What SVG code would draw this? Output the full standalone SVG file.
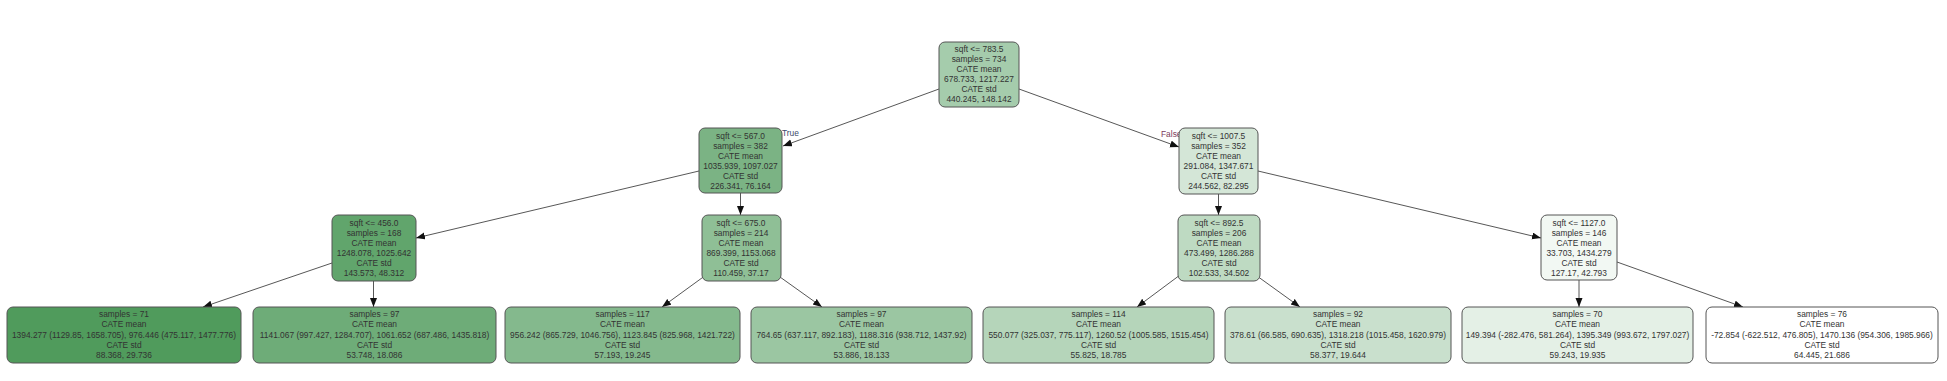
<svg xmlns="http://www.w3.org/2000/svg" width="1947" height="381" viewBox="0 0 1947 381">
<defs>
<style>
.n rect{stroke:#555;stroke-width:1}
.n text{font-family:"Liberation Sans",Arial,sans-serif;font-size:8.4px;fill:#333;text-anchor:middle}
.e line{stroke:#444;stroke-width:0.9;marker-end:url(#ah)}
.lbl{font-family:"Liberation Sans",Arial,sans-serif;font-size:8.4px}
</style>
<marker id="ah" markerUnits="userSpaceOnUse" markerWidth="10" markerHeight="8" refX="9" refY="3.5" orient="auto"><path d="M0,0 L9,3.5 L0,7 Z" fill="#111"/></marker>
</defs>
<rect width="1947" height="381" fill="#fff"/>
<g id="edges" class="e">
<line x1="939" y1="89" x2="783" y2="146"/>
<line x1="1019" y1="89" x2="1179" y2="147"/>
<line x1="699" y1="171" x2="416" y2="238"/>
<line x1="740.5" y1="193" x2="740.5" y2="215"/>
<line x1="1218.5" y1="194" x2="1218.5" y2="215"/>
<line x1="1258" y1="171" x2="1541" y2="238"/>
<line x1="332" y1="263" x2="203" y2="307"/>
<line x1="373.5" y1="281" x2="373.5" y2="307"/>
<line x1="706" y1="275" x2="662" y2="307"/>
<line x1="780" y1="277" x2="822" y2="307"/>
<line x1="1180" y1="275" x2="1137" y2="307"/>
<line x1="1257" y1="276" x2="1300" y2="307"/>
<line x1="1579" y1="280" x2="1579" y2="307"/>
<line x1="1617" y1="262" x2="1743" y2="307"/>
<text class="lbl" x="782" y="136" fill="#3b4a6b">True</text>
<text class="lbl" x="1161" y="137" fill="#7a3b5c">False</text>
</g>
<g id="n0" class="n"><rect x="939" y="42" width="80" height="65" rx="6" fill="#a5ccac"/>
<text x="979" y="52.3">sqft &lt;= 783.5</text><text x="979" y="62.3">samples = 734</text><text x="979" y="72.3">CATE mean</text><text x="979" y="82.3">678.733, 1217.227</text><text x="979" y="92.3">CATE std</text><text x="979" y="102.3">440.245, 148.142</text></g>
<g id="n1" class="n"><rect x="699" y="128" width="83" height="65" rx="6" fill="#7bb384"/>
<text x="740.5" y="139">sqft &lt;= 567.0</text><text x="740.5" y="149">samples = 382</text><text x="740.5" y="159">CATE mean</text><text x="740.5" y="169">1035.939, 1097.027</text><text x="740.5" y="179">CATE std</text><text x="740.5" y="189">226.341, 76.164</text></g>
<g id="n2" class="n"><rect x="1179" y="128" width="79" height="66" rx="6" fill="#d4e6d7"/>
<text x="1218.5" y="139">sqft &lt;= 1007.5</text><text x="1218.5" y="149">samples = 352</text><text x="1218.5" y="159">CATE mean</text><text x="1218.5" y="169">291.084, 1347.671</text><text x="1218.5" y="179">CATE std</text><text x="1218.5" y="189">244.562, 82.295</text></g>
<g id="n3" class="n"><rect x="332" y="215" width="84" height="66" rx="6" fill="#61a56c"/>
<text x="374" y="226">sqft &lt;= 456.0</text><text x="374" y="236">samples = 168</text><text x="374" y="246">CATE mean</text><text x="374" y="256">1248.078, 1025.642</text><text x="374" y="266">CATE std</text><text x="374" y="276">143.573, 48.312</text></g>
<g id="n4" class="n"><rect x="702" y="215" width="79" height="66" rx="6" fill="#8fbf96"/>
<text x="741" y="226">sqft &lt;= 675.0</text><text x="741" y="236">samples = 214</text><text x="741" y="246">CATE mean</text><text x="741" y="256">869.399, 1153.068</text><text x="741" y="266">CATE std</text><text x="741" y="276">110.459, 37.17</text></g>
<g id="n5" class="n"><rect x="1178" y="215" width="82" height="66" rx="6" fill="#bedac2"/>
<text x="1219" y="226">sqft &lt;= 892.5</text><text x="1219" y="236">samples = 206</text><text x="1219" y="246">CATE mean</text><text x="1219" y="256">473.499, 1286.288</text><text x="1219" y="266">CATE std</text><text x="1219" y="276">102.533, 34.502</text></g>
<g id="n6" class="n"><rect x="1541" y="215" width="76" height="65" rx="6" fill="#f2f8f3"/>
<text x="1579" y="226">sqft &lt;= 1127.0</text><text x="1579" y="236">samples = 146</text><text x="1579" y="246">CATE mean</text><text x="1579" y="256">33.703, 1434.279</text><text x="1579" y="266">CATE std</text><text x="1579" y="276">127.17, 42.793</text></g>
<g id="n7" class="n"><rect x="7" y="307" width="234" height="56" rx="6" fill="#509b5c"/>
<text x="124" y="317.1">samples = 71</text><text x="124" y="327.3">CATE mean</text><text x="124" y="337.5">1394.277 (1129.85, 1658.705), 976.446 (475.117, 1477.776)</text><text x="124" y="347.7">CATE std</text><text x="124" y="357.9">88.368, 29.736</text></g>
<g id="n8" class="n"><rect x="253" y="307" width="243" height="56" rx="6" fill="#6eac78"/>
<text x="374.5" y="317.1">samples = 97</text><text x="374.5" y="327.3">CATE mean</text><text x="374.5" y="337.5">1141.067 (997.427, 1284.707), 1061.652 (687.486, 1435.818)</text><text x="374.5" y="347.7">CATE std</text><text x="374.5" y="357.9">53.748, 18.086</text></g>
<g id="n9" class="n"><rect x="505" y="307" width="235" height="56" rx="6" fill="#84b98d"/>
<text x="622.5" y="317.1">samples = 117</text><text x="622.5" y="327.3">CATE mean</text><text x="622.5" y="337.5">956.242 (865.729, 1046.756), 1123.845 (825.968, 1421.722)</text><text x="622.5" y="347.7">CATE std</text><text x="622.5" y="357.9">57.193, 19.245</text></g>
<g id="n10" class="n"><rect x="751" y="307" width="221" height="56" rx="6" fill="#9bc6a2"/>
<text x="861.5" y="317.1">samples = 97</text><text x="861.5" y="327.3">CATE mean</text><text x="861.5" y="337.5">764.65 (637.117, 892.183), 1188.316 (938.712, 1437.92)</text><text x="861.5" y="347.7">CATE std</text><text x="861.5" y="357.9">53.886, 18.133</text></g>
<g id="n11" class="n"><rect x="983" y="307" width="231" height="56" rx="6" fill="#b5d5ba"/>
<text x="1098.5" y="317.1">samples = 114</text><text x="1098.5" y="327.3">CATE mean</text><text x="1098.5" y="337.5">550.077 (325.037, 775.117), 1260.52 (1005.585, 1515.454)</text><text x="1098.5" y="347.7">CATE std</text><text x="1098.5" y="357.9">55.825, 18.785</text></g>
<g id="n12" class="n"><rect x="1225" y="307" width="226" height="56" rx="6" fill="#c9e0cd"/>
<text x="1338" y="317.1">samples = 92</text><text x="1338" y="327.3">CATE mean</text><text x="1338" y="337.5">378.61 (66.585, 690.635), 1318.218 (1015.458, 1620.979)</text><text x="1338" y="347.7">CATE std</text><text x="1338" y="357.9">58.377, 19.644</text></g>
<g id="n13" class="n"><rect x="1462" y="307" width="231" height="56" rx="6" fill="#e4f0e6"/>
<text x="1577.5" y="317.1">samples = 70</text><text x="1577.5" y="327.3">CATE mean</text><text x="1577.5" y="337.5">149.394 (-282.476, 581.264), 1395.349 (993.672, 1797.027)</text><text x="1577.5" y="347.7">CATE std</text><text x="1577.5" y="357.9">59.243, 19.935</text></g>
<g id="n14" class="n"><rect x="1706" y="307" width="232" height="56" rx="6" fill="#ffffff"/>
<text x="1822" y="317.1">samples = 76</text><text x="1822" y="327.3">CATE mean</text><text x="1822" y="337.5">-72.854 (-622.512, 476.805), 1470.136 (954.306, 1985.966)</text><text x="1822" y="347.7">CATE std</text><text x="1822" y="357.9">64.445, 21.686</text></g>
</svg>
